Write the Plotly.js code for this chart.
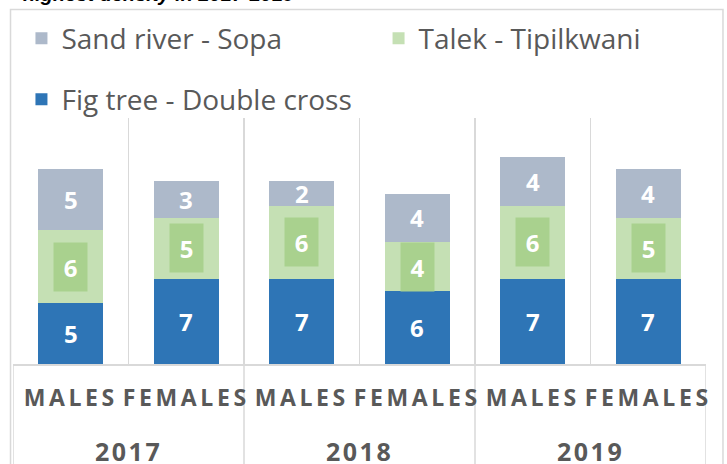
<!DOCTYPE html>
<html><head><meta charset="utf-8">
<script src="https://cdn.plot.ly/plotly-3.0.1.min.js"></script>
<style>html,body{margin:0;padding:0;background:#fff}</style>
</head><body><div id="chart" style="width:727px;height:464px"></div>
<script>
const years = ['2017', '2018', '2019'];
const sexes = ['MALES', 'FEMALES'];
const seriesNames = ['Fig tree - Double cross', 'Talek - Tipilkwani', 'Sand river - Sopa'];
const figTree = [5, 7, 7, 6, 7, 7];
const talek = [6, 5, 6, 4, 6, 5];
const sandRiver = [5, 3, 2, 4, 4, 4];
const captionText = 'highest density in 2017-2019';

const colors = ['#2e75b6', '#c5e0b4', '#adb9ca'];
const series = [figTree, talek, sandRiver];
const legendIds = ['legend3', 'legend2', 'legend'];

const xIdx = [];
const tickText = [];
years.forEach((y, yi) => sexes.forEach((s, si) => {
  xIdx.push(yi * sexes.length + si);
  tickText.push('<b><span style="letter-spacing:3.6px">' + s + '</span></b>');
}));

const traces = series.map((vals, k) => ({
  type: 'bar', name: seriesNames[k], x: xIdx, y: vals,
  marker: {color: colors[k]}, width: 0.56, legend: legendIds[k],
  hoverinfo: 'y+name'
}));

const annotations = [];
xIdx.forEach((xi, i) => {
  let base = 0;
  series.forEach((vals, k) => {
    const v = vals[i];
    const a = {
      x: xi, y: base + v / 2, xref: 'x', yref: 'y', text: '<b>' + v + '</b>',
      showarrow: false, font: {family: 'Open Sans', size: 24, color: '#ffffff'},
      xanchor: 'center', yanchor: 'middle'
    };
    if (k === 1) { a.bgcolor = '#a9d18e'; a.width = 33; a.height = 48; a.borderpad = 0; }
    annotations.push(a);
    base += v;
  });
});
years.forEach((y, yi) => {
  annotations.push({
    x: yi * sexes.length + (sexes.length - 1) / 2, xref: 'x', yref: 'paper', y: -0.3537,
    text: '<b><span style="letter-spacing:2.5px">' + y + '</span></b>', showarrow: false,
    font: {family: 'Open Sans', size: 25, color: '#595959'}, xanchor: 'center', yanchor: 'middle'
  });
});
annotations.push({
  xref: 'paper', yref: 'paper', x: 0.012, y: 1.451, xanchor: 'left', yanchor: 'bottom',
  text: '<b><i>' + captionText + '</i></b>', showarrow: false,
  font: {family: 'Liberation Sans', size: 20, color: '#000000'}
});

const n = xIdx.length;
const boundaries = [];
for (let i = 0; i <= n; i++) boundaries.push(i - 0.5);
const shapes = [];
for (let yi = 0; yi <= years.length; yi++) {
  const xb = yi * sexes.length - 0.5;
  shapes.push({type: 'line', xref: 'x', yref: 'paper', x0: xb, x1: xb, y0: 0, y1: -0.5,
    line: {color: '#d9d9d9', width: 1.5}, layer: 'below'});
}
shapes.push({type: 'rect', xref: 'paper', yref: 'paper', x0: -0.0036, x1: 1.0245, y0: -0.6, y1: 1.441,
  line: {color: '#d9d9d9', width: 1.5}, fillcolor: 'rgba(0,0,0,0)', layer: 'below'});

const legBase = {xanchor: 'left', yanchor: 'middle', orientation: 'h', bgcolor: 'rgba(0,0,0,0)',
  font: {family: 'Open Sans', size: 28, color: '#595959'}};
const layout = {
  width: 727, height: 464, autosize: false,
  margin: {l: 13, r: 21, t: 118, b: 100, pad: 0},
  paper_bgcolor: '#ffffff', plot_bgcolor: '#ffffff',
  barmode: 'stack', showlegend: true,
  legend: Object.assign({}, legBase, {x: 0.0122, y: 1.323}),
  legend2: Object.assign({}, legBase, {x: 0.5275, y: 1.323}),
  legend3: Object.assign({}, legBase, {x: 0.0122, y: 1.075}),
  xaxis: {type: 'linear', range: [-0.5, n - 0.5], tickvals: xIdx, ticktext: tickText,
    showgrid: false, zeroline: false, showline: true, linecolor: '#d9d9d9', linewidth: 1.5,
    ticks: '', ticklabelstandoff: 13,
    tickfont: {family: 'Open Sans', size: 23, color: '#595959'},
    minor: {tickvals: boundaries, showgrid: true, gridcolor: '#d9d9d9', gridwidth: 1.5, ticks: ''}},
  yaxis: {range: [0, 20.2], showgrid: false, zeroline: false, showline: false, showticklabels: false, ticks: ''},
  annotations: annotations, shapes: shapes
};
Plotly.newPlot('chart', traces, layout, {displayModeBar: false, staticPlot: true});
</script></body></html>
